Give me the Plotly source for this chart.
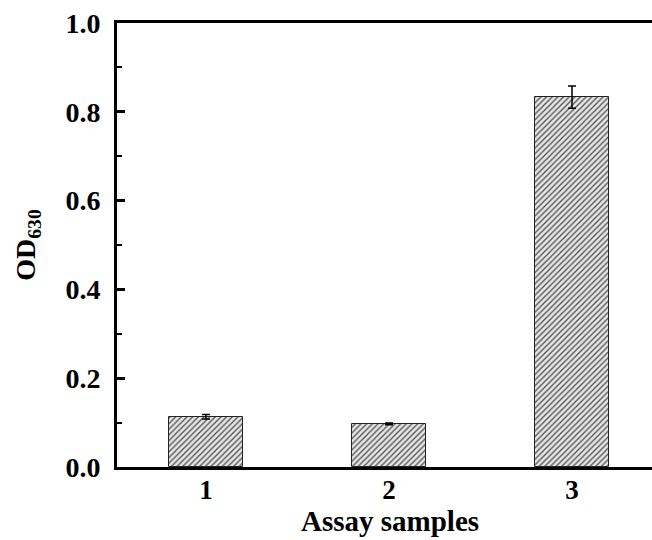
import plotly.graph_objects as go

categories = ["1", "2", "3"]
values = [0.113, 0.097, 0.833]
errors = [0.005, 0.002, 0.025]
x_pos = [1, 2, 3]
y_ticks = [0.0, 0.2, 0.4, 0.6, 0.8, 1.0]
y_ticklabels = ["0.0", "0.2", "0.4", "0.6", "0.8", "1.0"]
x_title = "Assay samples"
y_title = "OD<sub>630</sub>"

font_family = "Liberation Serif"

fig = go.Figure()
fig.add_trace(go.Bar(
    x=x_pos, y=values, width=0.4,
    marker=dict(color="white", line=dict(color="#222222", width=1),
                pattern=dict(shape="/", fgcolor="#555555", bgcolor="#e8e8e8",
                             size=4, solidity=0.35, fillmode="replace")),
    error_y=dict(type="data", array=errors, visible=True, color="black",
                 thickness=1.5, width=4),
    showlegend=False,
))

fig.update_layout(
    width=652, height=540,
    margin=dict(l=117, r=0, t=23, b=73),
    plot_bgcolor="white", paper_bgcolor="white",
    font=dict(family=font_family, color="black"),
    bargap=0,
)
fig.add_annotation(
    text=x_title, xref="paper", yref="paper", x=0.51, y=-0.122,
    xanchor="center", yanchor="middle", showarrow=False,
    font=dict(family=font_family, size=29, weight="bold"),
)
fig.update_xaxes(
    range=[0.514, 3.437], tickvals=x_pos, ticktext=categories,
    showline=True, linecolor="black", linewidth=3, mirror=True,
    ticks="", showgrid=False, zeroline=False,
    ticklabelstandoff=-3,
    tickfont=dict(family=font_family, size=27, weight="bold"),
)
fig.update_yaxes(
    range=[0, 1.0], tickvals=y_ticks, ticktext=y_ticklabels,
    showline=True, linecolor="black", linewidth=3,
    ticks="inside", ticklen=8, tickwidth=3, tickcolor="black",
    ticklabelstandoff=8,
    minor=dict(ticks="inside", ticklen=5, tickwidth=2, dtick=0.1, tickcolor="black", showgrid=False),
    showgrid=False, zeroline=False,
    tickfont=dict(family=font_family, size=28, weight="bold"),
    title=dict(text=y_title, font=dict(family=font_family, size=28, weight="bold"), standoff=22),
)

fig.write_html("out.html", config={"displayModeBar": False},
               post_script="document.body.style.margin='0';document.body.style.overflow='hidden';")
